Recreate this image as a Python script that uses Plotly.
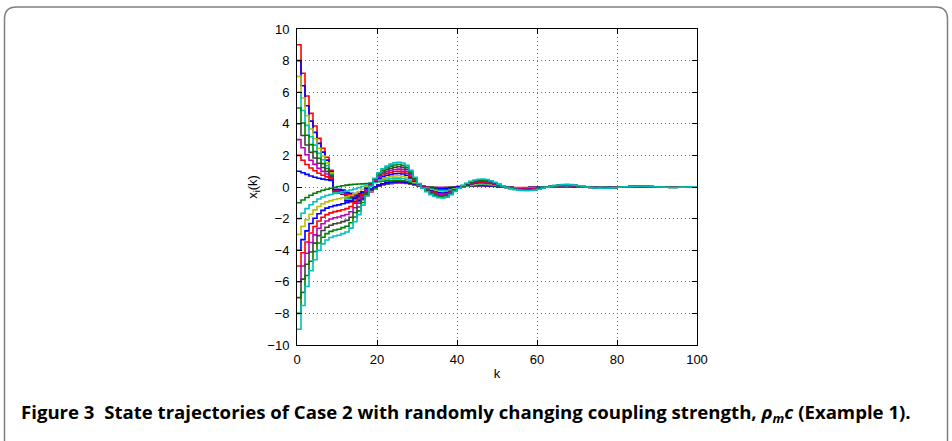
import plotly.graph_objects as go

# ---------------- data ----------------
k = list(range(0, 101))

# shared late part (k = 43..100) of the trajectories that start at +2 ... +8
late_pos = [0.08, 0.1, 0.1, 0.1, 0.09, 0.07, 0.05,
            0.02, 0.0, -0.02, -0.04, -0.05, -0.05, -0.05, -0.05, -0.04, -0.03,
            -0.02, 0.0, 0.01, 0.02, 0.03, 0.04, 0.04, 0.04, 0.03, 0.02,
            0.01, 0.0, -0.01, -0.02, -0.02, -0.02, -0.02, -0.01, -0.01, 0.0,
            0.0, 0.01, 0.01, 0.01, 0.01, 0.01, 0.01, 0.0, 0.0, 0.0,
            0.0, 0.0, -0.01, -0.01, -0.01, 0.0, 0.0, 0.0, 0.0, 0.0, 0.0]

x_p9 = [9.0, 7.2, 5.76, 4.66, 3.86, 3.08, 2.45, 1.88, 1.05, -0.4,
        -0.4, -0.45, -0.9, -0.95, -0.95, -0.9, -0.75, -0.55, -0.3, -0.1,
        0.05, 0.13, 0.19, 0.22, 0.24, 0.25, 0.25, 0.23, 0.2, 0.15,
        0.1, 0.06, 0.02, 0.0, -0.02, -0.03, -0.03, -0.02, -0.01, 0.01,
        0.03, 0.05, 0.07, 0.08, 0.09, 0.09, 0.09, 0.08, 0.06, 0.04,
        0.02, 0.0, -0.02, -0.03, -0.04, -0.04, -0.04, -0.04, -0.03, -0.02,
        -0.01, 0.0, 0.01, 0.02, 0.03, 0.03, 0.03, 0.03, 0.02, 0.01,
        0.0, -0.01, -0.01, -0.02, -0.02, -0.02, -0.01, -0.01, 0.0, 0.0,
        0.01, 0.01, 0.01, 0.01, 0.01, 0.0, 0.0, 0.0, 0.0, -0.01,
        -0.01, 0.0, 0.0, 0.0, 0.0, 0.0, 0.0, 0.0, 0.0, 0.0, 0.0]
x_p8 = [8.0, 6.41, 5.14, 4.17, 3.46, 2.76, 2.21, 1.7, 0.98, -0.37,
        -0.37, -0.42, -0.83, -0.88, -0.88, -0.84, -0.7, -0.51, -0.28, -0.09,
        0.06, 0.14, 0.2, 0.23, 0.25, 0.26, 0.26, 0.24, 0.21, 0.15,
        0.1, 0.06, 0.01, -0.01, -0.03, -0.04, -0.04, -0.03, -0.02, 0.0,
        0.03, 0.05, 0.07] + late_pos
x_p7 = [7.0, 5.63, 4.52, 3.67, 3.05, 2.45, 1.96, 1.53, 0.9, -0.34,
        -0.34, -0.39, -0.76, -0.81, -0.82, -0.78, -0.65, -0.47, -0.25, -0.07,
        0.07, 0.15, 0.21, 0.24, 0.26, 0.27, 0.27, 0.25, 0.21, 0.16,
        0.1, 0.05, 0.01, -0.02, -0.04, -0.05, -0.05, -0.04, -0.03, 0.0,
        0.02, 0.05, 0.07] + late_pos
x_p6 = [6.0, 4.84, 3.9, 3.18, 2.65, 2.13, 1.72, 1.35, 0.82, -0.31,
        -0.31, -0.36, -0.69, -0.74, -0.75, -0.71, -0.59, -0.43, -0.23, -0.06,
        0.08, 0.16, 0.22, 0.25, 0.27, 0.28, 0.28, 0.25, 0.22, 0.16,
        0.1, 0.05, 0.0, -0.03, -0.05, -0.06, -0.06, -0.05, -0.03, -0.01,
        0.02, 0.04, 0.07] + late_pos
x_p5 = [5.0, 4.05, 3.28, 2.68, 2.24, 1.82, 1.48, 1.17, 0.75, -0.28,
        -0.28, -0.33, -0.63, -0.68, -0.69, -0.65, -0.54, -0.39, -0.2, -0.04,
        0.09, 0.17, 0.23, 0.26, 0.28, 0.29, 0.29, 0.26, 0.22, 0.16,
        0.1, 0.05, -0.01, -0.04, -0.06, -0.07, -0.07, -0.06, -0.04, -0.02,
        0.02, 0.04, 0.07] + late_pos
x_p4 = [4.0, 3.26, 2.66, 2.19, 1.84, 1.5, 1.23, 0.99, 0.66, -0.24,
        -0.24, -0.29, -0.56, -0.61, -0.62, -0.59, -0.49, -0.34, -0.18, -0.03,
        0.09, 0.17, 0.23, 0.27, 0.29, 0.3, 0.29, 0.27, 0.23, 0.16,
        0.1, 0.04, -0.01, -0.04, -0.07, -0.08, -0.08, -0.07, -0.05, -0.02,
        0.01, 0.04, 0.06] + late_pos
x_p3 = [3.0, 2.48, 2.04, 1.69, 1.43, 1.18, 0.99, 0.82, 0.58, -0.21,
        -0.21, -0.26, -0.49, -0.54, -0.55, -0.53, -0.44, -0.3, -0.15, -0.01,
        0.1, 0.18, 0.24, 0.28, 0.3, 0.31, 0.3, 0.28, 0.23, 0.17,
        0.1, 0.04, -0.02, -0.05, -0.08, -0.09, -0.09, -0.08, -0.06, -0.03,
        0.01, 0.04, 0.06] + late_pos
x_p2 = [2.0, 1.69, 1.42, 1.2, 1.03, 0.87, 0.74, 0.64, 0.5, -0.18,
        -0.18, -0.23, -0.42, -0.47, -0.49, -0.46, -0.38, -0.26, -0.13, 0.0,
        0.11, 0.19, 0.25, 0.29, 0.31, 0.32, 0.31, 0.28, 0.24, 0.17,
        0.1, 0.03, -0.02, -0.06, -0.09, -0.1, -0.1, -0.09, -0.06, -0.03,
        0.0, 0.03, 0.06] + late_pos
x_p1 = [1.0, 0.9, 0.8, 0.7, 0.62, 0.55, 0.5, 0.46, 0.42, -0.15,
        -0.15, -0.2, -0.35, -0.4, -0.42, -0.4, -0.33, -0.22, -0.1, 0.02,
        0.12, 0.2, 0.26, 0.3, 0.32, 0.33, 0.32, 0.29, 0.24, 0.17,
        0.1, 0.03, -0.03, -0.07, -0.1, -0.11, -0.11, -0.1, -0.07, -0.04,
        0.0, 0.03, 0.06] + late_pos

x_m1 = [-1.0, -0.82, -0.66, -0.52, -0.4, -0.3, -0.21, -0.14, -0.08, -0.02,
        0.03, 0.08, 0.12, 0.15, 0.17, 0.19, 0.2, 0.22, 0.25, 0.29,
        0.33, 0.36, 0.39, 0.41, 0.42, 0.42, 0.4, 0.36, 0.3, 0.22,
        0.13, 0.04, -0.04, -0.1, -0.15, -0.18, -0.19, -0.18, -0.15, -0.1,
        -0.05, 0.0, 0.05, 0.09, 0.12, 0.14, 0.14, 0.13, 0.11, 0.08,
        0.04, 0.01, -0.02, -0.04, -0.06, -0.07, -0.07, -0.07, -0.06, -0.05,
        -0.03, -0.01, 0.01, 0.03, 0.05, 0.06, 0.06, 0.06, 0.05, 0.04,
        0.02, 0.0, -0.01, -0.02, -0.03, -0.03, -0.03, -0.03, -0.02, -0.01,
        0.0, 0.01, 0.01, 0.02, 0.02, 0.02, 0.02, 0.02, 0.01, 0.01,
        0.0, 0.0, -0.01, -0.01, -0.01, -0.01, 0.0, 0.0, 0.0, 0.0, 0.0]
x_m2 = [-2.0, -1.66, -1.37, -1.12, -0.93, -0.76, -0.63, -0.54, -0.47, -0.41,
        -0.36, -0.3, -0.25, -0.19, -0.13, -0.05, 0.03, 0.12, 0.23, 0.32,
        0.4, 0.46, 0.51, 0.54, 0.56, 0.56, 0.54, 0.49, 0.39, 0.27,
        0.14, 0.03, -0.07, -0.15, -0.21, -0.24, -0.25, -0.24, -0.19, -0.12,
        -0.05, 0.01, 0.07, 0.12, 0.16, 0.18, 0.19, 0.17, 0.15, 0.11,
        0.06, 0.02, -0.02, -0.05, -0.07, -0.09, -0.09, -0.09, -0.08, -0.07,
        -0.04, -0.02, 0.01, 0.03, 0.06, 0.07, 0.07, 0.07, 0.06, 0.05,
        0.03, 0.01, -0.01, -0.02, -0.03, -0.04, -0.04, -0.04, -0.03, -0.02,
        0.0, 0.01, 0.01, 0.02, 0.02, 0.03, 0.03, 0.02, 0.01, 0.01,
        0.0, 0.0, -0.01, -0.01, -0.01, -0.01, 0.0, 0.0, 0.0, 0.0, 0.0]
x_m3 = [-3.0, -2.49, -2.07, -1.72, -1.45, -1.23, -1.06, -0.94, -0.86, -0.79,
        -0.74, -0.68, -0.62, -0.54, -0.42, -0.3, -0.14, 0.03, 0.2, 0.36,
        0.47, 0.56, 0.62, 0.67, 0.7, 0.71, 0.68, 0.61, 0.49, 0.32,
        0.15, 0.01, -0.11, -0.2, -0.26, -0.3, -0.32, -0.3, -0.23, -0.15,
        -0.06, 0.03, 0.1, 0.16, 0.2, 0.23, 0.23, 0.22, 0.18, 0.14,
        0.08, 0.03, -0.02, -0.06, -0.09, -0.1, -0.11, -0.11, -0.1, -0.09,
        -0.06, -0.03, 0.0, 0.03, 0.06, 0.08, 0.08, 0.09, 0.08, 0.06,
        0.04, 0.01, -0.01, -0.02, -0.04, -0.04, -0.04, -0.04, -0.03, -0.02,
        -0.01, 0.01, 0.01, 0.03, 0.03, 0.03, 0.03, 0.03, 0.02, 0.01,
        0.0, 0.0, -0.01, -0.02, -0.02, -0.01, 0.0, 0.0, 0.0, 0.0, 0.0]
x_m4 = [-4.0, -3.33, -2.78, -2.31, -1.98, -1.69, -1.48, -1.34, -1.25, -1.18,
        -1.13, -1.06, -0.99, -0.88, -0.72, -0.54, -0.31, -0.07, 0.18, 0.39,
        0.54, 0.66, 0.74, 0.8, 0.84, 0.85, 0.82, 0.74, 0.58, 0.37,
        0.16, 0.0, -0.14, -0.24, -0.32, -0.36, -0.38, -0.35, -0.27, -0.17,
        -0.06, 0.04, 0.12, 0.19, 0.24, 0.27, 0.28, 0.26, 0.22, 0.16,
        0.09, 0.03, -0.02, -0.06, -0.1, -0.12, -0.13, -0.13, -0.12, -0.1,
        -0.07, -0.04, 0.0, 0.03, 0.07, 0.09, 0.09, 0.1, 0.09, 0.07,
        0.04, 0.02, -0.01, -0.02, -0.04, -0.05, -0.05, -0.05, -0.04, -0.03,
        -0.01, 0.01, 0.01, 0.03, 0.03, 0.04, 0.04, 0.03, 0.02, 0.01,
        0.0, 0.0, -0.01, -0.02, -0.02, -0.01, 0.0, 0.0, 0.0, 0.0, 0.0]
x_m5 = [-5.0, -4.16, -3.48, -2.91, -2.5, -2.15, -1.91, -1.75, -1.64, -1.56,
        -1.51, -1.44, -1.37, -1.23, -1.02, -0.78, -0.48, -0.17, 0.15, 0.42,
        0.62, 0.76, 0.86, 0.93, 0.98, 0.99, 0.96, 0.87, 0.68, 0.42,
        0.18, -0.02, -0.17, -0.29, -0.38, -0.43, -0.45, -0.41, -0.32, -0.19,
        -0.07, 0.05, 0.15, 0.23, 0.28, 0.32, 0.32, 0.3, 0.26, 0.19,
        0.11, 0.04, -0.03, -0.07, -0.11, -0.14, -0.15, -0.15, -0.14, -0.12,
        -0.09, -0.05, -0.01, 0.04, 0.07, 0.1, 0.11, 0.11, 0.1, 0.08,
        0.05, 0.02, 0.0, -0.03, -0.05, -0.05, -0.06, -0.06, -0.05, -0.03,
        -0.01, 0.0, 0.02, 0.03, 0.04, 0.04, 0.04, 0.04, 0.03, 0.02,
        0.0, -0.01, -0.02, -0.02, -0.02, -0.02, -0.01, 0.0, 0.01, 0.01, 0.01]
x_m6 = [-6.0, -5.0, -4.19, -3.51, -3.03, -2.61, -2.33, -2.15, -2.03, -1.95,
        -1.9, -1.81, -1.74, -1.57, -1.31, -1.02, -0.64, -0.26, 0.13, 0.45,
        0.69, 0.85, 0.97, 1.06, 1.11, 1.13, 1.1, 0.99, 0.77, 0.47,
        0.19, -0.03, -0.2, -0.34, -0.43, -0.49, -0.51, -0.47, -0.36, -0.21,
        -0.07, 0.06, 0.17, 0.26, 0.32, 0.36, 0.37, 0.34, 0.29, 0.22,
        0.13, 0.05, -0.03, -0.08, -0.12, -0.15, -0.16, -0.17, -0.16, -0.14,
        -0.1, -0.05, -0.01, 0.04, 0.08, 0.1, 0.12, 0.12, 0.11, 0.09,
        0.06, 0.03, 0.0, -0.03, -0.05, -0.06, -0.06, -0.06, -0.05, -0.04,
        -0.01, 0.0, 0.02, 0.03, 0.04, 0.05, 0.05, 0.04, 0.03, 0.02,
        0.0, -0.01, -0.02, -0.02, -0.02, -0.02, -0.01, 0.0, 0.01, 0.01, 0.01]
x_m7 = [-7.0, -5.83, -4.89, -4.11, -3.55, -3.08, -2.75, -2.55, -2.42, -2.33,
        -2.28, -2.19, -2.11, -1.91, -1.61, -1.27, -0.81, -0.36, 0.1, 0.49,
        0.76, 0.95, 1.09, 1.19, 1.25, 1.28, 1.24, 1.12, 0.86, 0.52,
        0.2, -0.05, -0.24, -0.39, -0.49, -0.55, -0.57, -0.53, -0.4, -0.24,
        -0.07, 0.08, 0.19, 0.29, 0.36, 0.4, 0.41, 0.39, 0.33, 0.25,
        0.15, 0.05, -0.03, -0.09, -0.14, -0.17, -0.18, -0.19, -0.18, -0.16,
        -0.11, -0.06, -0.01, 0.04, 0.08, 0.11, 0.13, 0.14, 0.13, 0.1,
        0.07, 0.03, 0.0, -0.03, -0.05, -0.06, -0.07, -0.07, -0.06, -0.04,
        -0.02, 0.0, 0.02, 0.04, 0.04, 0.05, 0.05, 0.04, 0.03, 0.02,
        0.0, -0.01, -0.02, -0.03, -0.03, -0.02, -0.01, 0.0, 0.01, 0.01, 0.01]
x_m8 = [-8.0, -6.67, -5.6, -4.7, -4.08, -3.54, -3.18, -2.95, -2.81, -2.72,
        -2.67, -2.57, -2.48, -2.26, -1.9, -1.51, -0.98, -0.45, 0.08, 0.52,
        0.83, 1.05, 1.2, 1.32, 1.39, 1.42, 1.38, 1.24, 0.96, 0.57,
        0.21, -0.07, -0.27, -0.43, -0.54, -0.61, -0.64, -0.58, -0.44, -0.26,
        -0.08, 0.09, 0.22, 0.33, 0.4, 0.45, 0.46, 0.43, 0.36, 0.27,
        0.16, 0.06, -0.03, -0.09, -0.15, -0.18, -0.2, -0.21, -0.2, -0.17,
        -0.13, -0.07, -0.02, 0.04, 0.09, 0.12, 0.14, 0.15, 0.14, 0.11,
        0.07, 0.04, 0.0, -0.03, -0.06, -0.07, -0.07, -0.07, -0.06, -0.05,
        -0.02, 0.0, 0.02, 0.04, 0.05, 0.06, 0.06, 0.05, 0.04, 0.02,
        0.0, -0.01, -0.02, -0.03, -0.03, -0.02, -0.01, 0.0, 0.01, 0.01, 0.01]
x_m9 = [-9.0, -7.5, -6.3, -5.3, -4.6, -4.0, -3.6, -3.35, -3.2, -3.1,
        -3.05, -2.95, -2.85, -2.6, -2.2, -1.75, -1.15, -0.55, 0.05, 0.55,
        0.9, 1.15, 1.32, 1.45, 1.53, 1.56, 1.52, 1.37, 1.05, 0.62,
        0.22, -0.08, -0.3, -0.48, -0.6, -0.67, -0.7, -0.64, -0.48, -0.28,
        -0.08, 0.1, 0.24, 0.36, 0.44, 0.49, 0.5, 0.47, 0.4, 0.3,
        0.18, 0.07, -0.03, -0.1, -0.16, -0.2, -0.22, -0.23, -0.22, -0.19,
        -0.14, -0.08, -0.02, 0.04, 0.09, 0.13, 0.15, 0.16, 0.15, 0.12,
        0.08, 0.04, 0.0, -0.03, -0.06, -0.07, -0.08, -0.08, -0.07, -0.05,
        -0.02, 0.0, 0.02, 0.04, 0.05, 0.06, 0.06, 0.05, 0.04, 0.02,
        0.0, -0.01, -0.02, -0.03, -0.03, -0.02, -0.01, 0.0, 0.01, 0.01, 0.01]

series = [x_p9, x_p8, x_p7, x_p6, x_p5, x_p4, x_p3, x_p2, x_p1,
          x_m1, x_m2, x_m3, x_m4, x_m5, x_m6, x_m7, x_m8, x_m9]
series_names = ["x0=9", "x0=8", "x0=7", "x0=6", "x0=5", "x0=4", "x0=3", "x0=2", "x0=1",
                "x0=-1", "x0=-2", "x0=-3", "x0=-4", "x0=-5", "x0=-6", "x0=-7", "x0=-8", "x0=-9"]

RED, BLUE, GREEN = "#FF0000", "#0000FF", "#008000"
CYAN, MAG, YEL, GRAY = "#00BFBF", "#BF00BF", "#BFBF00", "#404040"
series_colors = [RED, BLUE, YEL, CYAN, GREEN, GRAY, MAG, RED, BLUE,
                 GREEN, CYAN, YEL, BLUE, RED, MAG, GRAY, GREEN, CYAN]

x_ticks = [0, 20, 40, 60, 80, 100]
y_ticks = [-10, -8, -6, -4, -2, 0, 2, 4, 6, 8, 10]

# ---------------- figure ----------------
fig = go.Figure()
for vals, col, name in zip(series, series_colors, series_names):
    fig.add_trace(go.Scatter(
        x=k[:len(vals)], y=vals, mode="lines", name=name,
        line=dict(color=col, width=1.6, shape="hv"),
        showlegend=False, hoverinfo="skip"))

L, T, PW, PH = 297, 29, 400, 316
W, H = 952, 441


def px(xp):
    return (xp - L) / PW


def py(yp):
    return (T + PH - yp) / PH


FONT = "Liberation Sans, Arial, Helvetica, sans-serif"
axis_common = dict(
    showline=True, linecolor="black", linewidth=1, mirror="ticks",
    ticks="inside", ticklen=5, tickcolor="black", tickwidth=1,
    showgrid=True, gridcolor="#6f6f6f", griddash="1px,3px", gridwidth=1,
    zeroline=False,
    tickfont=dict(family=FONT, size=13, color="black"),
)

fig.update_xaxes(range=[0, 100], tickvals=x_ticks, ticklabelstandoff=2,
                 title=dict(text="k", standoff=3,
                            font=dict(family=FONT, size=13, color="black")),
                 **axis_common)
fig.update_yaxes(range=[-10, 10], tickvals=y_ticks, ticklabelstandoff=4,
                 title=dict(text="x<sub>i</sub>(k)", standoff=6,
                            font=dict(family=FONT, size=13, color="black")),
                 **axis_common)

# rounded frame around the figure
x0, x1 = px(4.5), px(947.5)
yt, yb = py(7), py(450)
rx, ry = 12 / PW, 12 / PH
frame = (f"M {x0},{yb} L {x0},{yt - ry} Q {x0},{yt} {x0 + rx},{yt} "
         f"L {x1 - rx},{yt} Q {x1},{yt} {x1},{yt - ry} L {x1},{yb}")
fig.add_shape(type="path", xref="paper", yref="paper", path=frame,
              line=dict(color="#7f7f7f", width=1.5), layer="below")

caption = ("Figure 3  State trajectories of Case 2 with randomly changing coupling strength, "
           "<i>ρ</i><sub><i>m</i></sub><i>c</i> (Example 1).")
fig.add_annotation(text="<b>" + caption + "</b>", xref="paper", yref="paper",
                   x=px(19), y=py(413), xanchor="left", yanchor="middle",
                   showarrow=False,
                   font=dict(family="Open Sans, Noto Sans, sans-serif", size=18.6, color="black"))

fig.update_layout(
    width=W, height=H,
    margin=dict(l=L, r=W - L - PW, t=T, b=H - T - PH, autoexpand=False),
    paper_bgcolor="white", plot_bgcolor="white",
    showlegend=False,
)

fig.write_html("out.html",
               config={"displayModeBar": False},
               post_script="document.body.style.margin='0px';document.body.style.overflow='hidden';")
